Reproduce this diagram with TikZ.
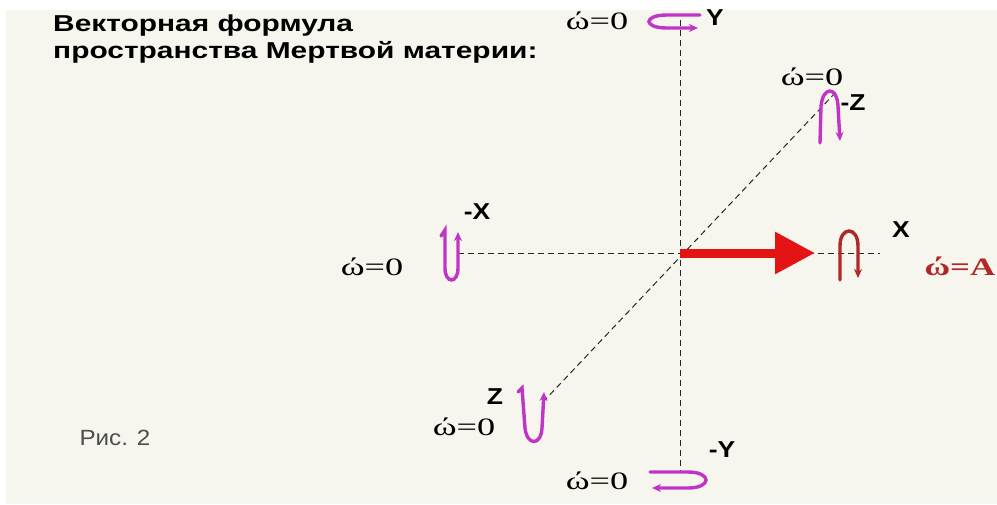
\documentclass[tikz,border=0pt]{standalone}
\usepackage{fontspec}
\setmainfont{Liberation Serif}
\newfontfamily\titlefont{Liberation Sans}
\usetikzlibrary{arrows.meta}
\definecolor{fondo}{HTML}{F7F6EE}
\definecolor{viola}{HTML}{C034C6}
\definecolor{rosso}{HTML}{E41414}
\definecolor{bordo}{HTML}{B02828}
\newcommand{\allarga}[2]{\scalebox{#1}[1]{#2}}
\begin{document}
\begin{tikzpicture}[
    x=1pt, y=-1pt,
    asse/.style={black!85, line width=1pt, dash pattern=on 6pt off 4pt},
    giro/.style={viola, line width=3.4pt, line cap=round,
      -{Stealth[length=9pt, width=8pt]}},
    etic/.style={font=\titlefont\bfseries\fontsize{23}{24}\selectfont, inner sep=0pt},
    omega/.style={font=\fontsize{25}{26}\selectfont, inner sep=0pt},
  ]

  % --- fondo ------------------------------------------------------------
  \useasboundingbox (0,0) rectangle (997,504);
  \fill[white] (0,0) rectangle (997,504);
  \fill[fondo] (6,10) rectangle (997,504);

  % --- titolo e didascalia ----------------------------------------------
  \node[etic, anchor=base west] (titolo1) at (53,31) {\allarga{1.3}{Векторная формула}};
  \node[etic, anchor=base west] (titolo2) at (53,58) {\allarga{1.3}{пространства Мертвой материи:}};
  \node[font=\titlefont\fontsize{22}{24}\selectfont, text=black!70, inner sep=0pt]
    (didasc) at (115,438) {\allarga{1.1}{Рис. 2}};

  % --- assi -------------------------------------------------------------
  \coordinate (O)  at (680,253);
  \coordinate (Yp) at (680,20);
  \coordinate (Yn) at (680,473);
  \coordinate (Xn) at (458,253);
  \coordinate (Xp) at (880,253);
  \coordinate (Zn) at (836,92);
  \coordinate (Zp) at (543,402);
  \draw[asse] (Yp) -- (Yn);
  \draw[asse] (Xn) -- (Xp);
  \draw[asse] (Zp) -- (Zn);

  % --- il vettore rosso -------------------------------------------------
  \coordinate (punta) at (815,253);
  \draw[rosso, line width=9pt, -{Triangle[length=40pt, width=40pt]}] (O) -- (punta);

  % --- rotazioni --------------------------------------------------------
  \draw[giro] (700,15) -- (667,15) .. controls (643,15) and (643,28) .. (667,28) -- (698,28);
  \draw[giro] (650,472) -- (688,472) .. controls (712,472) and (712,488) .. (688,488) -- (652,488);
  \draw[giro] (441,236) -- (445,230) -- (445,268) .. controls (445,284) and (458,284) .. (458,268) -- (458,232);
  \draw[giro] (518,392) -- (522,388) -- (525,428) .. controls (527,446) and (541,446) .. (542,428) -- (544,392);
  \draw[giro] (820,143) -- (821,106) .. controls (823,86) and (837,86) .. (838,106) -- (840,141);
  \draw[giro, bordo] (840,280) -- (840,246) .. controls (840,226) and (858,226) .. (858,246) -- (858,278);

  % --- etichette degli assi ---------------------------------------------
  \node[etic] (lYp) at (715,18)  {\allarga{1.15}{Y}};
  \node[etic] (lYn) at (722,450) {\allarga{1.15}{-Y}};
  \node[etic] (lXp) at (901,230) {\allarga{1.15}{X}};
  \node[etic] (lXn) at (477,212) {\allarga{1.15}{-X}};
  \node[etic] (lZp) at (495,397) {\allarga{1.15}{Z}};
  \node[etic] (lZn) at (853,103) {\allarga{1.15}{-Z}};

  % --- velocita' angolari -----------------------------------------------
  \node[omega] (wYp) at (597,21)  {\allarga{1.45}{ώ=0}};
  \node[omega] (wYn) at (597,481) {\allarga{1.45}{ώ=0}};
  \node[omega] (wXn) at (372,267) {\allarga{1.45}{ώ=0}};
  \node[omega] (wZp) at (464,427) {\allarga{1.45}{ώ=0}};
  \node[omega] (wZn) at (812,77)  {\allarga{1.45}{ώ=0}};
  \node[omega, text=bordo, font=\bfseries\fontsize{25}{26}\selectfont] (wXp) at (960,266) {\allarga{1.4}{ώ=A}};

\end{tikzpicture}
\end{document}
